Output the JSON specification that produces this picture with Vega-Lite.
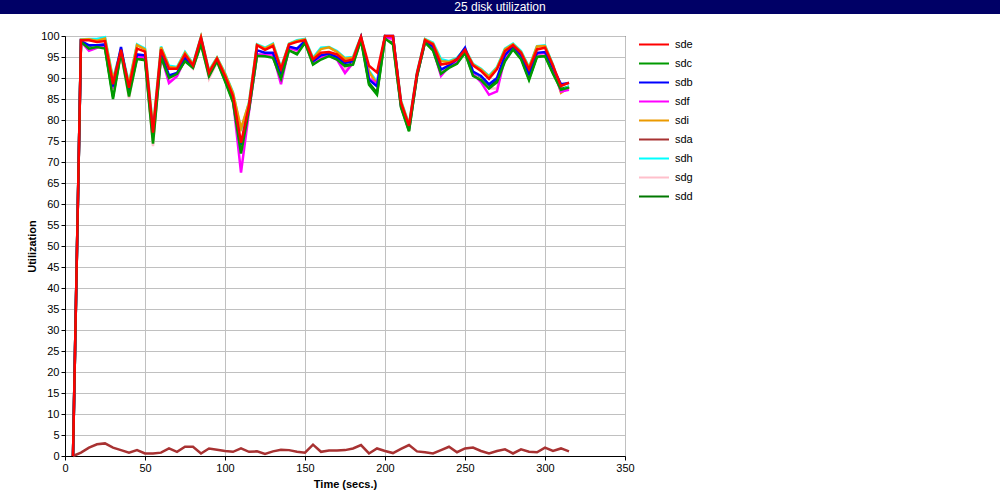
{
"$schema": "https://vega.github.io/schema/vega-lite/v6.json",
"padding": 0,
"background": "#ffffff",
"spacing": 15,
"config": {"font": "Liberation Sans", "concat": {"spacing": 0}},
"resolve": {"legend": {"color": "independent"}, "scale": {"color": "independent"}},
"vconcat": [
{
"width": 1000, "height": 14,
"view": {"fill": "#000066", "stroke": null},
"data": {"values": [{"title": "25 disk utilization"}]},
"mark": {"type": "text", "color": "#ffffff", "fontSize": 12, "font": "Liberation Sans", "baseline": "middle", "align": "center"},
"encoding": {"text": {"field": "title"}}
},
{
"spacing": 0,
"resolve": {"legend": {"color": "independent"}, "scale": {"color": "independent"}},
"hconcat": [
{"width": 26, "height": 10, "view": {"fill": "#ffffff", "stroke": null}, "data": {"values": []}, "mark": "point"},
{
"width": 560, "height": 420,
"view": {"stroke": "#000000", "strokeWidth": 1},
"data": {"values": [
{"t":5,"d":"sdd","u":0},{"t":10,"d":"sdd","u":98.5},{"t":15,"d":"sdd","u":97.2},{"t":20,"d":"sdd","u":97.6},{"t":25,"d":"sdd","u":97.2},{"t":30,"d":"sdd","u":85.6},{"t":35,"d":"sdd","u":96.2},{"t":40,"d":"sdd","u":86.3},{"t":45,"d":"sdd","u":94.8},{"t":50,"d":"sdd","u":94.5},{"t":55,"d":"sdd","u":75.0},{"t":60,"d":"sdd","u":95.2},{"t":65,"d":"sdd","u":90.3},{"t":70,"d":"sdd","u":91.0},{"t":75,"d":"sdd","u":94.2},{"t":80,"d":"sdd","u":92.5},{"t":85,"d":"sdd","u":98.2},{"t":90,"d":"sdd","u":90.6},{"t":95,"d":"sdd","u":94.0},{"t":100,"d":"sdd","u":89.5},{"t":105,"d":"sdd","u":84.5},{"t":110,"d":"sdd","u":72.8},{"t":115,"d":"sdd","u":82.6},{"t":120,"d":"sdd","u":95.5},{"t":125,"d":"sdd","u":95.4},{"t":130,"d":"sdd","u":95.0},{"t":135,"d":"sdd","u":90.0},{"t":140,"d":"sdd","u":96.8},{"t":145,"d":"sdd","u":96.0},{"t":150,"d":"sdd","u":98.5},{"t":155,"d":"sdd","u":93.4},{"t":160,"d":"sdd","u":94.6},{"t":165,"d":"sdd","u":95.3},{"t":170,"d":"sdd","u":94.6},{"t":175,"d":"sdd","u":93.0},{"t":180,"d":"sdd","u":93.4},{"t":185,"d":"sdd","u":99.2},{"t":190,"d":"sdd","u":88.8},{"t":195,"d":"sdd","u":86.5},{"t":200,"d":"sdd","u":99.5},{"t":205,"d":"sdd","u":98.4},{"t":210,"d":"sdd","u":83.2},{"t":215,"d":"sdd","u":77.5},{"t":220,"d":"sdd","u":90.5},{"t":225,"d":"sdd","u":98.6},{"t":230,"d":"sdd","u":96.8},{"t":235,"d":"sdd","u":91.2},{"t":240,"d":"sdd","u":92.6},{"t":245,"d":"sdd","u":93.6},{"t":250,"d":"sdd","u":96.0},{"t":255,"d":"sdd","u":90.8},{"t":260,"d":"sdd","u":89.8},{"t":265,"d":"sdd","u":87.8},{"t":270,"d":"sdd","u":89.4},{"t":275,"d":"sdd","u":94.4},{"t":280,"d":"sdd","u":97.0},{"t":285,"d":"sdd","u":94.8},{"t":290,"d":"sdd","u":89.8},{"t":295,"d":"sdd","u":95.2},{"t":300,"d":"sdd","u":95.4},{"t":305,"d":"sdd","u":91.2},{"t":310,"d":"sdd","u":87.4},{"t":315,"d":"sdd","u":87.9},
{"t":5,"d":"sdg","u":0},{"t":10,"d":"sdg","u":98.8},{"t":15,"d":"sdg","u":97.0},{"t":20,"d":"sdg","u":97.6},{"t":25,"d":"sdg","u":98.0},{"t":30,"d":"sdg","u":87.0},{"t":35,"d":"sdg","u":96.0},{"t":40,"d":"sdg","u":85.2},{"t":45,"d":"sdg","u":95.2},{"t":50,"d":"sdg","u":95.0},{"t":55,"d":"sdg","u":73.8},{"t":60,"d":"sdg","u":95.4},{"t":65,"d":"sdg","u":89.5},{"t":70,"d":"sdg","u":90.8},{"t":75,"d":"sdg","u":94.4},{"t":80,"d":"sdg","u":92.2},{"t":85,"d":"sdg","u":98.8},{"t":90,"d":"sdg","u":89.8},{"t":95,"d":"sdg","u":93.8},{"t":100,"d":"sdg","u":89.6},{"t":105,"d":"sdg","u":84.5},{"t":110,"d":"sdg","u":72.5},{"t":115,"d":"sdg","u":82.6},{"t":120,"d":"sdg","u":95.2},{"t":125,"d":"sdg","u":95.4},{"t":130,"d":"sdg","u":95.2},{"t":135,"d":"sdg","u":89.5},{"t":140,"d":"sdg","u":97.0},{"t":145,"d":"sdg","u":96.4},{"t":150,"d":"sdg","u":98.5},{"t":155,"d":"sdg","u":93.5},{"t":160,"d":"sdg","u":94.8},{"t":165,"d":"sdg","u":95.3},{"t":170,"d":"sdg","u":94.6},{"t":175,"d":"sdg","u":92.0},{"t":180,"d":"sdg","u":93.2},{"t":185,"d":"sdg","u":99.2},{"t":190,"d":"sdg","u":90.0},{"t":195,"d":"sdg","u":88.0},{"t":200,"d":"sdg","u":99.6},{"t":205,"d":"sdg","u":99.0},{"t":210,"d":"sdg","u":83.2},{"t":215,"d":"sdg","u":77.6},{"t":220,"d":"sdg","u":90.5},{"t":225,"d":"sdg","u":98.6},{"t":230,"d":"sdg","u":97.0},{"t":235,"d":"sdg","u":91.5},{"t":240,"d":"sdg","u":92.8},{"t":245,"d":"sdg","u":93.6},{"t":250,"d":"sdg","u":96.2},{"t":255,"d":"sdg","u":90.8},{"t":260,"d":"sdg","u":89.6},{"t":265,"d":"sdg","u":87.5},{"t":270,"d":"sdg","u":87.5},{"t":275,"d":"sdg","u":95.0},{"t":280,"d":"sdg","u":97.0},{"t":285,"d":"sdg","u":95.0},{"t":290,"d":"sdg","u":90.4},{"t":295,"d":"sdg","u":95.6},{"t":300,"d":"sdg","u":95.8},{"t":305,"d":"sdg","u":91.6},{"t":310,"d":"sdg","u":86.8},{"t":315,"d":"sdg","u":87.4},
{"t":5,"d":"sdh","u":0},{"t":10,"d":"sdh","u":99.2},{"t":15,"d":"sdh","u":99.3},{"t":20,"d":"sdh","u":99.3},{"t":25,"d":"sdh","u":99.7},{"t":30,"d":"sdh","u":89.8},{"t":35,"d":"sdh","u":96.8},{"t":40,"d":"sdh","u":88.8},{"t":45,"d":"sdh","u":98.0},{"t":50,"d":"sdh","u":97.0},{"t":55,"d":"sdh","u":78.0},{"t":60,"d":"sdh","u":97.5},{"t":65,"d":"sdh","u":92.9},{"t":70,"d":"sdh","u":92.6},{"t":75,"d":"sdh","u":96.2},{"t":80,"d":"sdh","u":93.4},{"t":85,"d":"sdh","u":99.8},{"t":90,"d":"sdh","u":91.8},{"t":95,"d":"sdh","u":94.9},{"t":100,"d":"sdh","u":91.2},{"t":105,"d":"sdh","u":86.6},{"t":110,"d":"sdh","u":77.5},{"t":115,"d":"sdh","u":84.2},{"t":120,"d":"sdh","u":98.0},{"t":125,"d":"sdh","u":97.2},{"t":130,"d":"sdh","u":98.2},{"t":135,"d":"sdh","u":92.5},{"t":140,"d":"sdh","u":98.2},{"t":145,"d":"sdh","u":99.0},{"t":150,"d":"sdh","u":99.3},{"t":155,"d":"sdh","u":94.8},{"t":160,"d":"sdh","u":97.2},{"t":165,"d":"sdh","u":97.4},{"t":170,"d":"sdh","u":96.4},{"t":175,"d":"sdh","u":94.8},{"t":180,"d":"sdh","u":95.0},{"t":185,"d":"sdh","u":99.9},{"t":190,"d":"sdh","u":91.8},{"t":195,"d":"sdh","u":89.0},{"t":200,"d":"sdh","u":100},{"t":205,"d":"sdh","u":99.8},{"t":210,"d":"sdh","u":84.6},{"t":215,"d":"sdh","u":79.0},{"t":220,"d":"sdh","u":91.4},{"t":225,"d":"sdh","u":99.3},{"t":230,"d":"sdh","u":98.4},{"t":235,"d":"sdh","u":94.5},{"t":240,"d":"sdh","u":94.0},{"t":245,"d":"sdh","u":94.8},{"t":250,"d":"sdh","u":97.0},{"t":255,"d":"sdh","u":93.4},{"t":260,"d":"sdh","u":92.2},{"t":265,"d":"sdh","u":90.5},{"t":270,"d":"sdh","u":92.6},{"t":275,"d":"sdh","u":97.0},{"t":280,"d":"sdh","u":98.2},{"t":285,"d":"sdh","u":96.4},{"t":290,"d":"sdh","u":92.6},{"t":295,"d":"sdh","u":97.6},{"t":300,"d":"sdh","u":97.8},{"t":305,"d":"sdh","u":93.2},{"t":310,"d":"sdh","u":87.0},{"t":315,"d":"sdh","u":88.0},
{"t":5,"d":"sda","u":0},{"t":10,"d":"sda","u":0.8},{"t":15,"d":"sda","u":2.0},{"t":20,"d":"sda","u":2.8},{"t":25,"d":"sda","u":3.0},{"t":30,"d":"sda","u":2.0},{"t":35,"d":"sda","u":1.4},{"t":40,"d":"sda","u":0.8},{"t":45,"d":"sda","u":1.4},{"t":50,"d":"sda","u":0.6},{"t":55,"d":"sda","u":0.6},{"t":60,"d":"sda","u":0.8},{"t":65,"d":"sda","u":1.8},{"t":70,"d":"sda","u":1.0},{"t":75,"d":"sda","u":2.2},{"t":80,"d":"sda","u":2.2},{"t":85,"d":"sda","u":0.6},{"t":90,"d":"sda","u":1.8},{"t":95,"d":"sda","u":1.5},{"t":100,"d":"sda","u":1.2},{"t":105,"d":"sda","u":1.0},{"t":110,"d":"sda","u":1.8},{"t":115,"d":"sda","u":1.0},{"t":120,"d":"sda","u":1.1},{"t":125,"d":"sda","u":0.5},{"t":130,"d":"sda","u":1.1},{"t":135,"d":"sda","u":1.5},{"t":140,"d":"sda","u":1.4},{"t":145,"d":"sda","u":1.0},{"t":150,"d":"sda","u":0.8},{"t":155,"d":"sda","u":2.7},{"t":160,"d":"sda","u":1.0},{"t":165,"d":"sda","u":1.3},{"t":170,"d":"sda","u":1.3},{"t":175,"d":"sda","u":1.4},{"t":180,"d":"sda","u":1.8},{"t":185,"d":"sda","u":2.6},{"t":190,"d":"sda","u":0.6},{"t":195,"d":"sda","u":1.8},{"t":200,"d":"sda","u":1.2},{"t":205,"d":"sda","u":0.7},{"t":210,"d":"sda","u":1.7},{"t":215,"d":"sda","u":2.6},{"t":220,"d":"sda","u":1.1},{"t":225,"d":"sda","u":0.9},{"t":230,"d":"sda","u":0.6},{"t":235,"d":"sda","u":1.4},{"t":240,"d":"sda","u":2.2},{"t":245,"d":"sda","u":0.9},{"t":250,"d":"sda","u":1.8},{"t":255,"d":"sda","u":2.0},{"t":260,"d":"sda","u":1.2},{"t":265,"d":"sda","u":0.6},{"t":270,"d":"sda","u":1.2},{"t":275,"d":"sda","u":1.6},{"t":280,"d":"sda","u":0.6},{"t":285,"d":"sda","u":1.6},{"t":290,"d":"sda","u":1.0},{"t":295,"d":"sda","u":0.9},{"t":300,"d":"sda","u":2.0},{"t":305,"d":"sda","u":1.2},{"t":310,"d":"sda","u":1.8},{"t":315,"d":"sda","u":1.1},
{"t":5,"d":"sdi","u":0},{"t":10,"d":"sdi","u":99.1},{"t":15,"d":"sdi","u":99.2},{"t":20,"d":"sdi","u":98.9},{"t":25,"d":"sdi","u":99.4},{"t":30,"d":"sdi","u":89.5},{"t":35,"d":"sdi","u":96.5},{"t":40,"d":"sdi","u":88.5},{"t":45,"d":"sdi","u":97.8},{"t":50,"d":"sdi","u":96.8},{"t":55,"d":"sdi","u":77.8},{"t":60,"d":"sdi","u":97.3},{"t":65,"d":"sdi","u":92.6},{"t":70,"d":"sdi","u":92.4},{"t":75,"d":"sdi","u":96.0},{"t":80,"d":"sdi","u":93.2},{"t":85,"d":"sdi","u":99.8},{"t":90,"d":"sdi","u":91.6},{"t":95,"d":"sdi","u":94.8},{"t":100,"d":"sdi","u":91.0},{"t":105,"d":"sdi","u":86.4},{"t":110,"d":"sdi","u":78.0},{"t":115,"d":"sdi","u":84.0},{"t":120,"d":"sdi","u":97.9},{"t":125,"d":"sdi","u":97.0},{"t":130,"d":"sdi","u":98.0},{"t":135,"d":"sdi","u":92.3},{"t":140,"d":"sdi","u":98.1},{"t":145,"d":"sdi","u":98.8},{"t":150,"d":"sdi","u":99.2},{"t":155,"d":"sdi","u":94.6},{"t":160,"d":"sdi","u":96.9},{"t":165,"d":"sdi","u":97.3},{"t":170,"d":"sdi","u":96.2},{"t":175,"d":"sdi","u":94.6},{"t":180,"d":"sdi","u":94.8},{"t":185,"d":"sdi","u":99.8},{"t":190,"d":"sdi","u":91.5},{"t":195,"d":"sdi","u":88.5},{"t":200,"d":"sdi","u":100},{"t":205,"d":"sdi","u":99.6},{"t":210,"d":"sdi","u":84.4},{"t":215,"d":"sdi","u":78.8},{"t":220,"d":"sdi","u":91.2},{"t":225,"d":"sdi","u":99.2},{"t":230,"d":"sdi","u":98.2},{"t":235,"d":"sdi","u":94.0},{"t":240,"d":"sdi","u":93.8},{"t":245,"d":"sdi","u":94.6},{"t":250,"d":"sdi","u":96.8},{"t":255,"d":"sdi","u":93.2},{"t":260,"d":"sdi","u":92.0},{"t":265,"d":"sdi","u":90.3},{"t":270,"d":"sdi","u":92.4},{"t":275,"d":"sdi","u":96.8},{"t":280,"d":"sdi","u":98.0},{"t":285,"d":"sdi","u":96.2},{"t":290,"d":"sdi","u":92.4},{"t":295,"d":"sdi","u":97.5},{"t":300,"d":"sdi","u":97.6},{"t":305,"d":"sdi","u":93.0},{"t":310,"d":"sdi","u":86.5},{"t":315,"d":"sdi","u":87.8},
{"t":5,"d":"sdf","u":0},{"t":10,"d":"sdf","u":98.7},{"t":15,"d":"sdf","u":96.5},{"t":20,"d":"sdf","u":97.2},{"t":25,"d":"sdf","u":97.8},{"t":30,"d":"sdf","u":87.5},{"t":35,"d":"sdf","u":96.4},{"t":40,"d":"sdf","u":86.8},{"t":45,"d":"sdf","u":95.0},{"t":50,"d":"sdf","u":95.0},{"t":55,"d":"sdf","u":75.8},{"t":60,"d":"sdf","u":95.5},{"t":65,"d":"sdf","u":88.8},{"t":70,"d":"sdf","u":90.4},{"t":75,"d":"sdf","u":94.5},{"t":80,"d":"sdf","u":92.6},{"t":85,"d":"sdf","u":99.2},{"t":90,"d":"sdf","u":90.6},{"t":95,"d":"sdf","u":94.2},{"t":100,"d":"sdf","u":89.8},{"t":105,"d":"sdf","u":84.8},{"t":110,"d":"sdf","u":67.5},{"t":115,"d":"sdf","u":82.0},{"t":120,"d":"sdf","u":95.6},{"t":125,"d":"sdf","u":95.6},{"t":130,"d":"sdf","u":95.6},{"t":135,"d":"sdf","u":88.5},{"t":140,"d":"sdf","u":97.2},{"t":145,"d":"sdf","u":96.6},{"t":150,"d":"sdf","u":98.6},{"t":155,"d":"sdf","u":93.8},{"t":160,"d":"sdf","u":95.0},{"t":165,"d":"sdf","u":95.4},{"t":170,"d":"sdf","u":94.4},{"t":175,"d":"sdf","u":91.2},{"t":180,"d":"sdf","u":93.6},{"t":185,"d":"sdf","u":99.4},{"t":190,"d":"sdf","u":90.0},{"t":195,"d":"sdf","u":88.5},{"t":200,"d":"sdf","u":99.6},{"t":205,"d":"sdf","u":99.4},{"t":210,"d":"sdf","u":83.4},{"t":215,"d":"sdf","u":78.0},{"t":220,"d":"sdf","u":90.6},{"t":225,"d":"sdf","u":98.6},{"t":230,"d":"sdf","u":97.0},{"t":235,"d":"sdf","u":90.5},{"t":240,"d":"sdf","u":92.8},{"t":245,"d":"sdf","u":93.8},{"t":250,"d":"sdf","u":96.5},{"t":255,"d":"sdf","u":91.0},{"t":260,"d":"sdf","u":89.0},{"t":265,"d":"sdf","u":86.0},{"t":270,"d":"sdf","u":86.8},{"t":275,"d":"sdf","u":95.0},{"t":280,"d":"sdf","u":97.2},{"t":285,"d":"sdf","u":95.2},{"t":290,"d":"sdf","u":90.8},{"t":295,"d":"sdf","u":95.8},{"t":300,"d":"sdf","u":96.0},{"t":305,"d":"sdf","u":92.0},{"t":310,"d":"sdf","u":86.8},{"t":315,"d":"sdf","u":87.2},
{"t":5,"d":"sdb","u":0},{"t":10,"d":"sdb","u":98.8},{"t":15,"d":"sdb","u":97.8},{"t":20,"d":"sdb","u":97.8},{"t":25,"d":"sdb","u":98.0},{"t":30,"d":"sdb","u":88.0},{"t":35,"d":"sdb","u":97.4},{"t":40,"d":"sdb","u":87.0},{"t":45,"d":"sdb","u":95.6},{"t":50,"d":"sdb","u":95.4},{"t":55,"d":"sdb","u":76.2},{"t":60,"d":"sdb","u":96.0},{"t":65,"d":"sdb","u":90.6},{"t":70,"d":"sdb","u":91.2},{"t":75,"d":"sdb","u":94.8},{"t":80,"d":"sdb","u":92.8},{"t":85,"d":"sdb","u":99.4},{"t":90,"d":"sdb","u":91.0},{"t":95,"d":"sdb","u":94.3},{"t":100,"d":"sdb","u":90.0},{"t":105,"d":"sdb","u":85.0},{"t":110,"d":"sdb","u":74.0},{"t":115,"d":"sdb","u":83.0},{"t":120,"d":"sdb","u":96.6},{"t":125,"d":"sdb","u":96.0},{"t":130,"d":"sdb","u":96.0},{"t":135,"d":"sdb","u":90.6},{"t":140,"d":"sdb","u":97.5},{"t":145,"d":"sdb","u":97.0},{"t":150,"d":"sdb","u":98.8},{"t":155,"d":"sdb","u":94.0},{"t":160,"d":"sdb","u":95.4},{"t":165,"d":"sdb","u":95.8},{"t":170,"d":"sdb","u":95.0},{"t":175,"d":"sdb","u":93.6},{"t":180,"d":"sdb","u":94.0},{"t":185,"d":"sdb","u":99.6},{"t":190,"d":"sdb","u":89.6},{"t":195,"d":"sdb","u":88.0},{"t":200,"d":"sdb","u":100},{"t":205,"d":"sdb","u":100},{"t":210,"d":"sdb","u":83.6},{"t":215,"d":"sdb","u":78.0},{"t":220,"d":"sdb","u":90.8},{"t":225,"d":"sdb","u":98.8},{"t":230,"d":"sdb","u":97.5},{"t":235,"d":"sdb","u":92.0},{"t":240,"d":"sdb","u":93.0},{"t":245,"d":"sdb","u":94.5},{"t":250,"d":"sdb","u":97.2},{"t":255,"d":"sdb","u":91.5},{"t":260,"d":"sdb","u":90.5},{"t":265,"d":"sdb","u":88.5},{"t":270,"d":"sdb","u":90.0},{"t":275,"d":"sdb","u":95.5},{"t":280,"d":"sdb","u":97.5},{"t":285,"d":"sdb","u":95.5},{"t":290,"d":"sdb","u":91.0},{"t":295,"d":"sdb","u":96.0},{"t":300,"d":"sdb","u":96.2},{"t":305,"d":"sdb","u":92.4},{"t":310,"d":"sdb","u":88.5},{"t":315,"d":"sdb","u":88.8},
{"t":5,"d":"sdc","u":0},{"t":10,"d":"sdc","u":98.6},{"t":15,"d":"sdc","u":97.0},{"t":20,"d":"sdc","u":97.4},{"t":25,"d":"sdc","u":97.0},{"t":30,"d":"sdc","u":85.0},{"t":35,"d":"sdc","u":96.0},{"t":40,"d":"sdc","u":85.6},{"t":45,"d":"sdc","u":94.5},{"t":50,"d":"sdc","u":94.2},{"t":55,"d":"sdc","u":74.4},{"t":60,"d":"sdc","u":95.0},{"t":65,"d":"sdc","u":90.0},{"t":70,"d":"sdc","u":91.0},{"t":75,"d":"sdc","u":94.0},{"t":80,"d":"sdc","u":92.4},{"t":85,"d":"sdc","u":98.0},{"t":90,"d":"sdc","u":90.4},{"t":95,"d":"sdc","u":94.0},{"t":100,"d":"sdc","u":89.2},{"t":105,"d":"sdc","u":84.2},{"t":110,"d":"sdc","u":72.0},{"t":115,"d":"sdc","u":82.4},{"t":120,"d":"sdc","u":95.3},{"t":125,"d":"sdc","u":95.2},{"t":130,"d":"sdc","u":94.8},{"t":135,"d":"sdc","u":89.8},{"t":140,"d":"sdc","u":96.6},{"t":145,"d":"sdc","u":95.6},{"t":150,"d":"sdc","u":98.4},{"t":155,"d":"sdc","u":93.2},{"t":160,"d":"sdc","u":94.4},{"t":165,"d":"sdc","u":95.2},{"t":170,"d":"sdc","u":94.4},{"t":175,"d":"sdc","u":92.8},{"t":180,"d":"sdc","u":93.2},{"t":185,"d":"sdc","u":99.0},{"t":190,"d":"sdc","u":88.4},{"t":195,"d":"sdc","u":86.0},{"t":200,"d":"sdc","u":99.4},{"t":205,"d":"sdc","u":98.0},{"t":210,"d":"sdc","u":83.0},{"t":215,"d":"sdc","u":77.3},{"t":220,"d":"sdc","u":90.4},{"t":225,"d":"sdc","u":98.5},{"t":230,"d":"sdc","u":96.5},{"t":235,"d":"sdc","u":91.0},{"t":240,"d":"sdc","u":92.4},{"t":245,"d":"sdc","u":93.4},{"t":250,"d":"sdc","u":96.0},{"t":255,"d":"sdc","u":90.5},{"t":260,"d":"sdc","u":89.5},{"t":265,"d":"sdc","u":87.5},{"t":270,"d":"sdc","u":89.0},{"t":275,"d":"sdc","u":94.0},{"t":280,"d":"sdc","u":96.8},{"t":285,"d":"sdc","u":94.5},{"t":290,"d":"sdc","u":89.5},{"t":295,"d":"sdc","u":95.0},{"t":300,"d":"sdc","u":95.2},{"t":305,"d":"sdc","u":91.0},{"t":310,"d":"sdc","u":87.2},{"t":315,"d":"sdc","u":87.7},
{"t":5,"d":"sde","u":0},{"t":10,"d":"sde","u":99.0},{"t":15,"d":"sde","u":99.0},{"t":20,"d":"sde","u":98.6},{"t":25,"d":"sde","u":98.8},{"t":30,"d":"sde","u":88.5},{"t":35,"d":"sde","u":96.7},{"t":40,"d":"sde","u":87.7},{"t":45,"d":"sde","u":97.0},{"t":50,"d":"sde","u":96.3},{"t":55,"d":"sde","u":77.0},{"t":60,"d":"sde","u":96.8},{"t":65,"d":"sde","u":92.2},{"t":70,"d":"sde","u":92.2},{"t":75,"d":"sde","u":95.6},{"t":80,"d":"sde","u":93.0},{"t":85,"d":"sde","u":99.6},{"t":90,"d":"sde","u":91.3},{"t":95,"d":"sde","u":94.6},{"t":100,"d":"sde","u":90.5},{"t":105,"d":"sde","u":85.7},{"t":110,"d":"sde","u":74.6},{"t":115,"d":"sde","u":83.3},{"t":120,"d":"sde","u":97.8},{"t":125,"d":"sde","u":96.7},{"t":130,"d":"sde","u":97.6},{"t":135,"d":"sde","u":92.1},{"t":140,"d":"sde","u":98.0},{"t":145,"d":"sde","u":98.6},{"t":150,"d":"sde","u":99.0},{"t":155,"d":"sde","u":94.4},{"t":160,"d":"sde","u":96.0},{"t":165,"d":"sde","u":96.2},{"t":170,"d":"sde","u":95.6},{"t":175,"d":"sde","u":94.0},{"t":180,"d":"sde","u":94.4},{"t":185,"d":"sde","u":99.8},{"t":190,"d":"sde","u":92.9},{"t":195,"d":"sde","u":91.3},{"t":200,"d":"sde","u":100},{"t":205,"d":"sde","u":100},{"t":210,"d":"sde","u":84.1},{"t":215,"d":"sde","u":78.6},{"t":220,"d":"sde","u":91.0},{"t":225,"d":"sde","u":99.0},{"t":230,"d":"sde","u":98.0},{"t":235,"d":"sde","u":93.2},{"t":240,"d":"sde","u":93.5},{"t":245,"d":"sde","u":94.4},{"t":250,"d":"sde","u":96.7},{"t":255,"d":"sde","u":93.0},{"t":260,"d":"sde","u":91.7},{"t":265,"d":"sde","u":89.8},{"t":270,"d":"sde","u":92.1},{"t":275,"d":"sde","u":96.4},{"t":280,"d":"sde","u":97.8},{"t":285,"d":"sde","u":96.0},{"t":290,"d":"sde","u":92.1},{"t":295,"d":"sde","u":96.8},{"t":300,"d":"sde","u":97.2},{"t":305,"d":"sde","u":92.9},{"t":310,"d":"sde","u":88.1},{"t":315,"d":"sde","u":88.9}
]},
"mark": {"type": "line", "strokeWidth": 2.5},
"encoding": {
"x": {"field": "t", "type": "quantitative", "scale": {"domain": [0, 350], "nice": false},
 "axis": {"title": "Time (secs.)", "values": [0, 50, 100, 150, 200, 250, 300, 350], "grid": true, "gridColor": "#c0c0c0", "gridOpacity": 1, "domainColor": "#000000", "tickColor": "#000000", "tickSize": 4, "labelFontSize": 11, "labelColor": "#000000", "labelPadding": 2, "labelFlush": false, "labelOverlap": false, "titleFontSize": 11, "titleFontWeight": "bold", "titleColor": "#000000", "titlePadding": 5}},
"y": {"field": "u", "type": "quantitative", "scale": {"domain": [0, 100], "nice": false},
 "axis": {"title": "Utilization", "values": [0, 5, 10, 15, 20, 25, 30, 35, 40, 45, 50, 55, 60, 65, 70, 75, 80, 85, 90, 95, 100], "grid": true, "gridColor": "#c0c0c0", "gridOpacity": 1, "domainColor": "#000000", "tickColor": "#000000", "tickSize": 4, "labelFontSize": 11, "labelColor": "#000000", "labelPadding": 2, "labelFlush": false, "labelOverlap": false, "titleFontSize": 11, "titleFontWeight": "bold", "titleColor": "#000000", "titlePadding": 3}},
"color": {"field": "d", "type": "nominal",
 "scale": {"domain": ["sde", "sdc", "sdb", "sdf", "sdi", "sda", "sdh", "sdg", "sdd"], "range": ["#ff0000", "#009a00", "#0000ff", "#ff00ff", "#eb9a00", "#a83232", "#00ffff", "#ffc0cb", "#007800"]},
 "legend": {"title": null, "orient": "right", "offset": 13, "padding": 0, "symbolType": "stroke", "symbolSize": 900, "symbolStrokeWidth": 2, "symbolOpacity": 1, "labelFontSize": 11, "labelColor": "#000000", "labelOffset": 5, "clipHeight": 17, "rowPadding": 2}}
}
}
]
}
]
}
